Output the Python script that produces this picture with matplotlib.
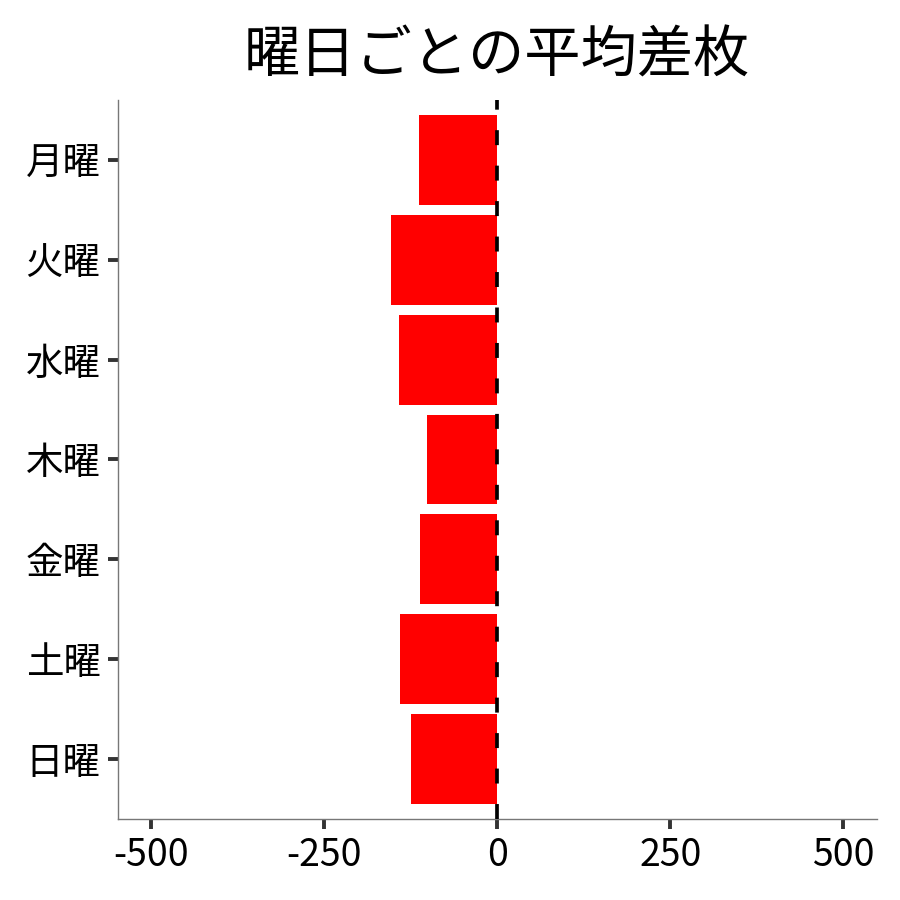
import matplotlib
matplotlib.use("Agg")
import matplotlib.pyplot as plt

plt.rcParams['font.family'] = ['Noto Sans CJK JP', 'DejaVu Sans']

days = ['月曜', '火曜', '水曜', '木曜', '金曜', '土曜', '日曜']
avg_diff = [-113, -154, -142, -102, -112, -141, -124]
xticks = [-500, -250, 0, 250, 500]
title = '曜日ごとの平均差枚'

fig = plt.figure(figsize=(9, 9), dpi=100)
ax = fig.add_axes([0.131, 0.09, 0.843, 0.799])

ypos = list(range(len(days)))
ax.barh(ypos, avg_diff, height=0.9, color='#FF0000', zorder=2)
ax.axvline(0, color='black', lw=2.66, linestyle=(0, (4.05, 5.55)), zorder=3)

ax.set_xlim(-548, 548)
ax.set_ylim(len(days) - 0.4, -0.6)
ax.set_yticks(ypos)
ax.set_yticklabels(days)
ax.set_xticks(xticks)
ax.set_xticklabels([str(v) for v in xticks])

for s in ['top', 'right']:
    ax.spines[s].set_visible(False)
for s in ['left', 'bottom']:
    ax.spines[s].set_color('#777777')
    ax.spines[s].set_linewidth(1.0)

ax.tick_params(axis='both', which='major', length=7.5, width=2.8, color='#333333',
               labelsize=27, labelcolor='black', pad=5)

ax.set_title(title, fontsize=40.5, pad=20)

fig.savefig('out.png', dpi=100, facecolor='white')
